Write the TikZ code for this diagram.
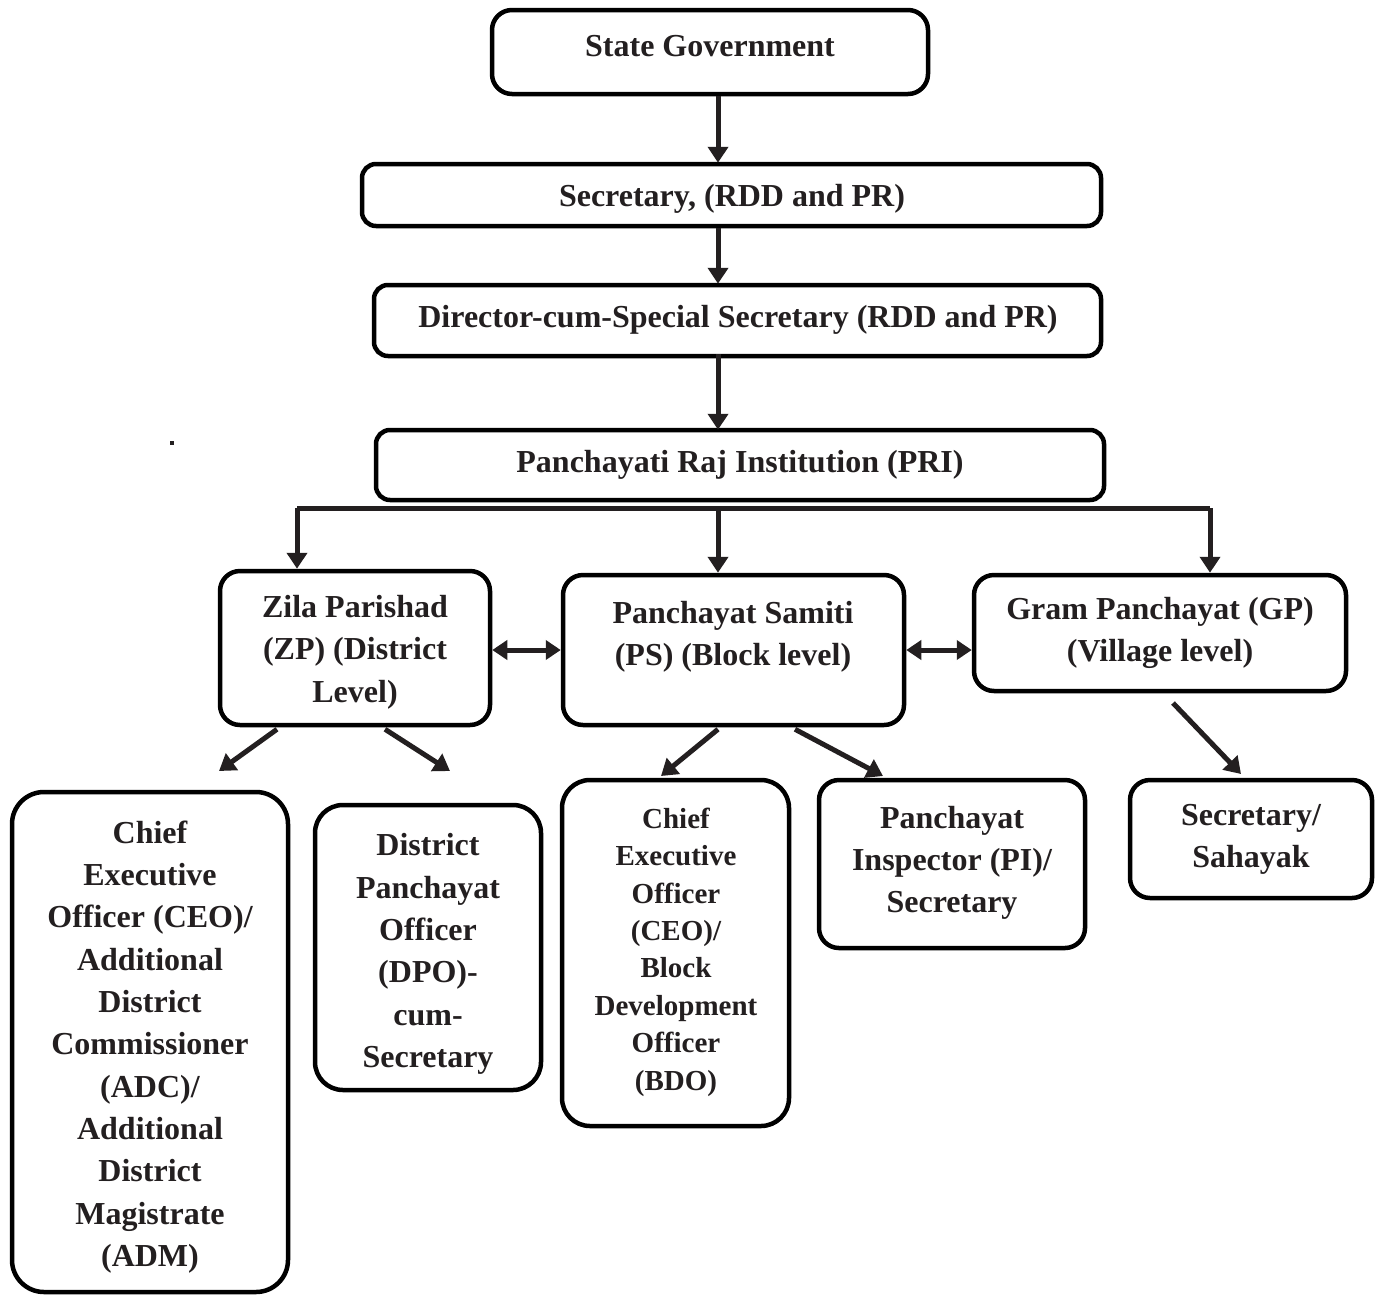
\documentclass[tikz,border=0pt]{standalone}
\usepackage{fontspec}
\setmainfont{Liberation Serif}
\usetikzlibrary{arrows.meta}
\definecolor{ink}{HTML}{231F20}
\begin{document}
\begin{tikzpicture}[x=1pt,y=-1pt,
  box/.style={draw=black,line width=4.5pt,rounded corners=20pt,inner sep=0pt,fill=white},
  txt/.style={text=ink,font=\fontsize{32}{42.3}\selectfont\bfseries,align=center,inner sep=0pt},
  arr/.style={draw=ink,line width=5pt,-{Triangle[length=16pt,width=20pt]}},
  darr/.style={draw=ink,line width=5pt,{Triangle[length=15pt,width=19pt]}-{Triangle[length=15pt,width=19pt]}},
  ln/.style={draw=ink,line width=5pt,line cap=square}]
\useasboundingbox (0,0) rectangle (1378,1296);
% boxes
\node[box,minimum width=436pt,minimum height=84pt] (sg) at (710,52) {};
\node[box,minimum width=739pt,minimum height=62pt,rounded corners=14pt] (sec) at (731.5,195) {};
\node[box,minimum width=727pt,minimum height=71pt,rounded corners=14pt] (dir) at (737.5,320.5) {};
\node[box,minimum width=728pt,minimum height=70pt,rounded corners=14pt] (pri) at (740,465) {};
\node[box,minimum width=270pt,minimum height=154pt] (zp) at (355,648) {};
\node[box,minimum width=341pt,minimum height=150pt] (ps) at (733.5,650) {};
\node[box,minimum width=372pt,minimum height=116pt] (gp) at (1160,633) {};
\node[box,minimum width=276pt,minimum height=500pt,rounded corners=32pt] (ceo) at (150,1042) {};
\node[box,minimum width=226pt,minimum height=285pt,rounded corners=28pt] (dpo) at (428,947.5) {};
\node[box,minimum width=227pt,minimum height=346pt,rounded corners=28pt] (bdo) at (675.5,953) {};
\node[box,minimum width=266pt,minimum height=168pt] (pi) at (952,864) {};
\node[box,minimum width=242pt,minimum height=118pt] (ss) at (1251,839) {};
% texts
\node[txt] (sgt) at (710,46) {State Government};
\node[txt] (sect) at (732,199) {Secretary, (RDD and PR)};
\node[txt] (dirt) at (738,320) {Director-cum-Special Secretary (RDD and PR)};
\node[txt] (prit) at (740,465) {Panchayati Raj Institution (PRI)};
\node[txt] (zpt) at (355,652) {Zila Parishad\\(ZP) (District\\Level)};
\node[txt] (pst) at (733,636.5) {Panchayat Samiti\\(PS) (Block level)};
\node[txt] (gpt) at (1160,633) {Gram Panchayat (GP)\\(Village level)};
\node[txt] (ceot) at (150,1047) {Chief\\Executive\\Officer (CEO)/\\Additional\\District\\Commissioner\\(ADC)/\\Additional\\District\\Magistrate\\(ADM)};
\node[txt] (dpot) at (428,954) {District\\Panchayat\\Officer\\(DPO)-\\cum-\\Secretary};
\node[txt,font=\fontsize{29}{37.4}\selectfont\bfseries] (bdot) at (676,952) {Chief\\Executive\\Officer\\(CEO)/\\Block\\Development\\Officer\\(BDO)};
\node[txt] (pit) at (952,863) {Panchayat\\Inspector (PI)/\\Secretary};
\node[txt] (sst) at (1251,839) {Secretary/\\Sahayak};
% connectors
\coordinate (xm) at (718,0);
\coordinate (xl) at (297,0);
\coordinate (xr) at (1210,0);
\coordinate (bus) at (0,508);
\coordinate (ym) at (0,650);
\draw[arr] (sg.south -| xm) -- ([yshift=-1pt]sec.north -| xm);
\draw[arr] (sec.south -| xm) -- ([yshift=-1pt]dir.north -| xm);
\draw[arr] ([yshift=4pt]dir.south -| xm) -- ([yshift=-2pt]pri.north -| xm);
\draw[ln] (bus -| xl) -- (bus -| xr);
\draw[arr] (bus -| xl) -- (zp.north -| xl);
\draw[arr] (bus -| xm) -- (ps.north -| xm);
\draw[arr] (bus -| xr) -- (gp.north -| xr);
\draw[darr] (zp.east |- ym) -- (ps.west |- ym);
\draw[darr] (ps.east |- ym) -- (gp.west |- ym);
\coordinate (z1) at (277,0); \coordinate (e1) at (219,771);
\coordinate (z2) at (385,0); \coordinate (e2) at (450,771);
\coordinate (p1) at (718,0); \coordinate (e3) at (661,776);
\coordinate (p2) at (795,0); \coordinate (e4) at (883,776);
\coordinate (g1) at (1173,703); \coordinate (e5) at (1241,774);
\draw[arr] ([yshift=-2pt]zp.south -| z1) -- (e1);
\draw[arr] ([yshift=-2pt]zp.south -| z2) -- (e2);
\draw[arr] ([yshift=-2pt]ps.south -| p1) -- (e3);
\draw[arr] ([yshift=-2pt]ps.south -| p2) -- (e4);
\draw[arr] (g1) -- (e5);
% stray dot
\fill[ink] (170,441) rectangle (174,445);
\end{tikzpicture}
\end{document}
